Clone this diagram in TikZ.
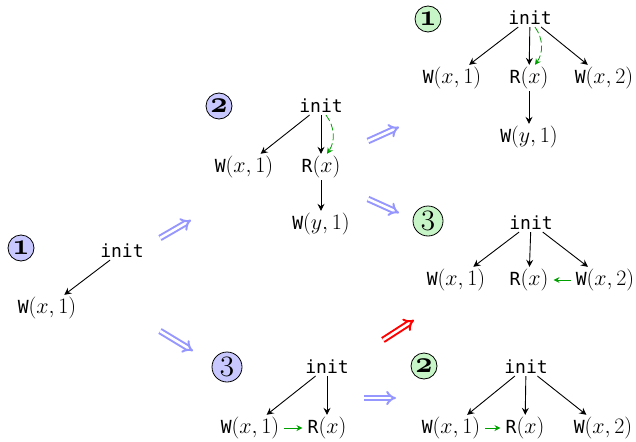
\documentclass[tikz,border=0pt]{standalone}
\usepackage{fix-cm}
\usepackage{fontspec}
\setmonofont[Scale=0.82]{DejaVu Sans Mono}
\usetikzlibrary{arrows.meta}
\definecolor{stepblue}{RGB}{150,150,255}
\definecolor{badred}{RGB}{255,0,0}
\definecolor{blobblue}{RGB}{200,200,255}
\definecolor{blobgreen}{RGB}{200,245,200}
\definecolor{rfgreen}{RGB}{0,160,0}
\begin{document}
\begin{tikzpicture}[x=1pt,y=-1pt,
  ev/.style={inner sep=2pt, font=\fontsize{22}{26}\selectfont},
  num/.style={circle, draw=black, line width=0.8pt, inner sep=0pt,
    font=\fontsize{30}{34}\selectfont},
  small/.style={num, minimum size=26pt, font=\fontsize{30}{34}\selectfont\boldmath},
  big/.style={num, minimum size=30pt},
  dep/.style={line width=0.9pt, -{Stealth[length=7pt,width=7pt,inset=2.5pt]}},
  rf/.style={draw=rfgreen, line width=0.8pt, dash pattern=on 7pt off 3pt,
    -{Stealth[length=6pt,width=6pt,inset=2pt]}},
  co/.style={draw=rfgreen, line width=0.8pt, shorten <=3pt, shorten >=3pt,
    -{Stealth[length=6pt,width=6pt,inset=2pt]}},
  stepto/.style={draw=stepblue, line width=2pt, double=white,
    double distance=2.6pt, -{Implies}},
  badstep/.style={stepto, draw=badred}
]
\useasboundingbox (0,0) rectangle (636,441);

% state 1: only the first write
\node[small, fill=blobblue] (n1) at (21,248) {$\mathnormal{1}$};
\node[ev] (a0) at (122,251) {\texttt{init}};
\node[ev] (a1) at (47,308) {\texttt{W}$(x,1)$};
\draw[dep] (a0) -- (a1);

% state 2: read sees init
\node[small, fill=blobblue] (n2) at (219,106) {$\mathnormal{2}$};
\node[ev] (b0) at (321,106) {\texttt{init}};
\node[ev] (b1) at (244,167) {\texttt{W}$(x,1)$};
\node[ev] (b2) at (321,167) {\texttt{R}$(x)$};
\node[ev] (b3) at (321,224) {\texttt{W}$(y,1)$};
\draw[dep] (b0) -- (b1);
\draw[dep] (b0) -- (b2);
\draw[dep] (b2) -- (b3);
\draw[rf] ([xshift=5pt]b0.south) to[bend left=35] ([xshift=6pt]b2.north);

% state 3: read sees the first write
\node[big, fill=blobblue] (n3) at (227,367) {$\mathnormal{3}$};
\node[ev] (e0) at (327,367) {\texttt{init}};
\node[ev] (e1) at (250,428) {\texttt{W}$(x,1)$};
\node[ev] (e2) at (327,428) {\texttt{R}$(x)$};
\draw[dep] (e0) -- (e1);
\draw[dep] (e0) -- (e2);
\draw[co] (e1) -- (e2);

% final state 1
\node[small, fill=blobgreen] (g1) at (428,19) {$\mathnormal{1}$};
\node[ev] (c0) at (530,18) {\texttt{init}};
\node[ev] (c1) at (452,78) {\texttt{W}$(x,1)$};
\node[ev] (c2) at (529,78) {\texttt{R}$(x)$};
\node[ev] (c3) at (604,78) {\texttt{W}$(x,2)$};
\node[ev] (c4) at (529,137) {\texttt{W}$(y,1)$};
\draw[dep] (c0) -- (c1);
\draw[dep] (c0) -- (c2);
\draw[dep] (c0) -- (c3);
\draw[dep] (c2) -- (c4);
\draw[rf] ([xshift=5pt]c0.south) to[bend left=35] ([xshift=6pt]c2.north);

% final state 3
\node[big, fill=blobgreen] (g3) at (428,221) {$\mathnormal{3}$};
\node[ev] (d0) at (531,223) {\texttt{init}};
\node[ev] (d1) at (456,280) {\texttt{W}$(x,1)$};
\node[ev] (d2) at (529,280) {\texttt{R}$(x)$};
\node[ev] (d3) at (605,280) {\texttt{W}$(x,2)$};
\draw[dep] (d0) -- (d1);
\draw[dep] (d0) -- (d2);
\draw[dep] (d0) -- (d3);
\draw[co] (d3) -- (d2);

% final state 2
\node[small, fill=blobgreen] (g2) at (424,366) {$\mathnormal{2}$};
\node[ev] (f0) at (526,367) {\texttt{init}};
\node[ev] (f1) at (451,428) {\texttt{W}$(x,1)$};
\node[ev] (f2) at (525,428) {\texttt{R}$(x)$};
\node[ev] (f3) at (603,428) {\texttt{W}$(x,2)$};
\draw[dep] (f0) -- (f1);
\draw[dep] (f0) -- (f2);
\draw[dep] (f0) -- (f3);
\draw[co] (f1) -- (f2);

% transitions between states
\coordinate (s1a) at (160,238); \coordinate (s1b) at (191,220);
\coordinate (s2a) at (160,331); \coordinate (s2b) at (193,351);
\coordinate (s3a) at (368,141); \coordinate (s3b) at (399,127);
\coordinate (s4a) at (368,199); \coordinate (s4b) at (399,213);
\coordinate (s5a) at (364,398); \coordinate (s5b) at (396,398);
\coordinate (s6a) at (383,340); \coordinate (s6b) at (414,320);
\draw[stepto] (s1a) -- (s1b);
\draw[stepto] (s2a) -- (s2b);
\draw[stepto] (s3a) -- (s3b);
\draw[stepto] (s4a) -- (s4b);
\draw[stepto] (s5a) -- (s5b);
\draw[badstep] (s6a) -- (s6b);
\end{tikzpicture}
\end{document}
